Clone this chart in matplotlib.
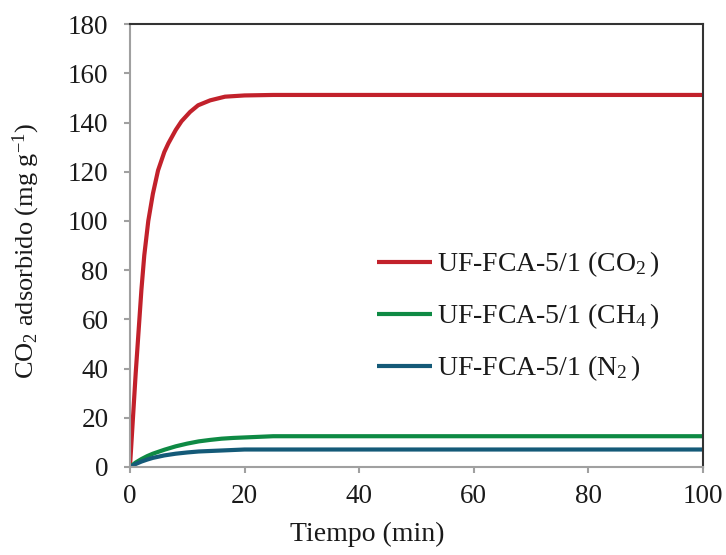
import matplotlib
matplotlib.use("Agg")
import matplotlib.pyplot as plt

plt.rcParams['font.family'] = ['Liberation Serif', 'DejaVu Serif']
plt.rcParams['mathtext.fontset'] = 'custom'
plt.rcParams['mathtext.rm'] = 'Liberation Serif'
plt.rcParams['mathtext.it'] = 'Liberation Serif:italic'

# Data
t_co2 = [0, 0.5, 1.0, 1.5, 2.0, 2.5, 3.2, 4.0, 4.9, 6.0, 6.7, 8.0, 9.0, 10.5, 11.9, 14, 16.6, 20, 25, 100]
q_co2 = [0, 19, 38, 55, 72, 86, 100, 111, 120.5, 128, 131.5, 137, 140.5, 144.3, 147, 149, 150.5, 151, 151.2, 151.2]

t_ch4 = [0, 1, 2, 3, 4, 5, 6, 8, 10, 12, 14, 16, 18, 20, 25, 30, 100]
q_ch4 = [0, 1.8, 3.2, 4.4, 5.4, 6.2, 7.0, 8.4, 9.5, 10.4, 11.0, 11.5, 11.8, 12.0, 12.5, 12.5, 12.5]

t_n2 = [0, 1, 2, 3, 4, 5, 6, 8, 10, 12, 14, 16, 18, 20, 30, 100]
q_n2 = [0, 1.2, 2.2, 3.0, 3.7, 4.2, 4.7, 5.4, 5.9, 6.3, 6.5, 6.7, 6.9, 7.1, 7.1, 7.1]

labels = ['UF-FCA-5/1 (CO$_2\\,$)', 'UF-FCA-5/1 (CH$_4\\,$)', 'UF-FCA-5/1 (N$_2\\,$)']
colors = ['#C2212B', '#0E8A44', '#145A78']

fig = plt.figure(figsize=(7.26, 5.55), dpi=100)
ax = fig.add_axes([0.179, 0.1586, 0.789, 0.798])

ax.plot(t_co2, q_co2, color=colors[0], lw=3.0, label=labels[0], solid_capstyle='butt')
ax.plot(t_ch4, q_ch4, color=colors[1], lw=3.0, label=labels[1], solid_capstyle='butt')
ax.plot(t_n2, q_n2, color=colors[2], lw=3.0, label=labels[2], solid_capstyle='butt')

ax.set_xlim(0, 100)
ax.set_ylim(0, 180)
ax.set_xticks(range(0, 101, 20))
ax.set_yticks(range(0, 181, 20))

for s in ['left', 'bottom']:
    ax.spines[s].set_color('#A0A0A0')
    ax.spines[s].set_linewidth(1.5)
for s in ['top', 'right']:
    ax.spines[s].set_color('#333333')
    ax.spines[s].set_linewidth(1.5)

ax.tick_params(axis='both', direction='out', length=4.5, width=1.5, color='#A0A0A0',
               labelsize=19.5, labelcolor='#1a1a1a')
ax.tick_params(axis='x', pad=8)
ax.tick_params(axis='y', pad=11)

ax.set_xlabel('Tiempo (min)', fontsize=20, color='#1a1a1a')
ax.set_ylabel('CO$_2$ adsorbido (mg g$^{-1}$)', fontsize=19, color='#1a1a1a')
ax.xaxis.set_label_coords(0.414, -0.124)
ax.yaxis.set_label_coords(-0.154, 0.4876)

leg = ax.legend(loc='center left', bbox_to_anchor=(0.432, 0.34), frameon=False,
                fontsize=20, handlelength=1.95, handletextpad=0.2, labelspacing=0.8,
                borderpad=0, borderaxespad=0)
for txt in leg.get_texts():
    txt.set_color('#1a1a1a')

fig.savefig('out.png', dpi=100)
